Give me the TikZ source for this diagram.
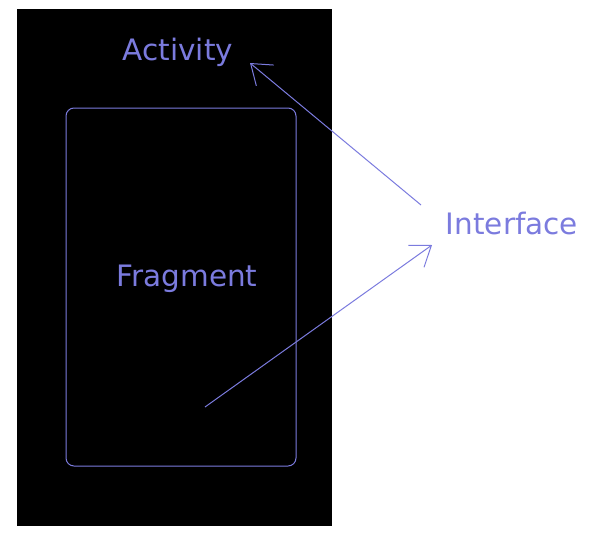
\documentclass[tikz,border=0pt]{standalone}
\usepackage{fontspec}
\newfontfamily\labelfont{DejaVu Sans}
\usetikzlibrary{positioning,arrows.meta}
\definecolor{lilac}{HTML}{7B7BDE}

\begin{document}
\begin{tikzpicture}[
    x=1pt, y=-1pt,
    lbl/.style={
      text=lilac,
      anchor=base,
      inner sep=0pt,
      font=\labelfont\fontsize{29.5}{35}\selectfont
    },
    arr/.style={
      -{Straight Barb[angle=72:23pt]},
      draw=lilac,
      line width=1pt
    }
  ]
    \useasboundingbox (0,0) rectangle (593,533);
    \fill[black] (17,9) rectangle (332,526);
    \draw[lilac, line width=1pt, rounded corners=8pt] (66,108) rectangle (296,466);

    \node[lbl] (act) at (178,60) {Activity};
    \node[lbl] (frag) at (187,286) {Fragment};
    \node[lbl] (iface) at (512,234) {Interface};

    \coordinate (actTip) at (250,63);
    \coordinate (ifTop) at (421,205);
    \coordinate (fragTail) at (205,407);
    \coordinate (ifTip) at (432,245);

    \draw[arr] (ifTop) -- (actTip);
    \draw[arr] (fragTail) -- (ifTip);
  \end{tikzpicture}
\end{document}
